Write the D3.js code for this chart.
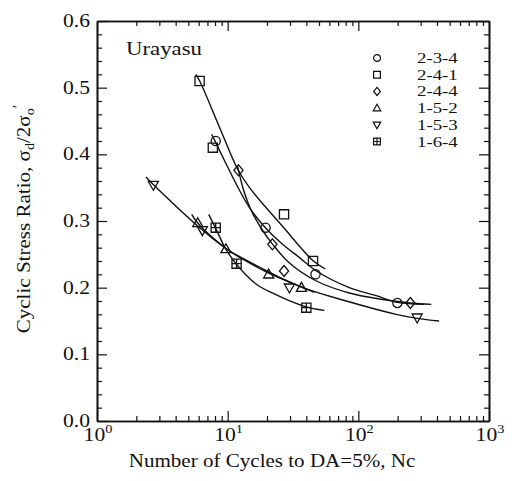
<!DOCTYPE html>
<html>
<head>
<meta charset="utf-8">
<script src="https://cdn.jsdelivr.net/npm/d3@7"></script>
<style>
  body { margin: 0; background: #fff; }
  svg { display: block; }
  text { font-family: "Liberation Serif", "DejaVu Serif", serif; fill: #111; }
</style>
</head>
<body>
<div id="chart"></div>
<script>
// legend / series names
var names = ["2-3-4", "2-4-1", "2-4-4", "1-5-2", "1-5-3", "1-6-4"];
var shapes = ["circle", "square", "diamond", "triUp", "triDown", "squarePlus"];

// measured points [Nc, stress ratio]
var pts234 = [[8.1, 0.42], [19.5, 0.29], [47, 0.22], [199, 0.177]];
var pts241 = [[6.1, 0.51], [7.7, 0.41], [27, 0.31], [45, 0.24]];
var pts244 = [[12.1, 0.376], [22, 0.265], [27, 0.225], [250, 0.177]];
var pts152 = [[5.9, 0.297], [9.7, 0.258], [20.6, 0.22], [36.7, 0.2]];
var pts153 = [[2.7, 0.354], [6.4, 0.286], [29.7, 0.2], [282, 0.155]];
var pts164 = [[8.1, 0.29], [11.7, 0.236], [40, 0.17]];

// hand drawn fit curves
var fit234 = [[7.55, 0.430], [9.49, 0.390], [12.4, 0.345], [14.7, 0.320], [19.2, 0.291], [26.3, 0.265],
              [35.5, 0.245], [47.8, 0.225], [85.3, 0.200], [137, 0.188], [199, 0.178], [319, 0.175]];
var fit241 = [[5.70, 0.520], [6.11, 0.510], [8.69, 0.440], [11.9, 0.378], [14.7, 0.350], [26.3, 0.292],
              [45.3, 0.240], [56.0, 0.228]];
var fit244 = [[11.9, 0.382], [13.3, 0.345], [15.2, 0.315], [18.2, 0.288], [22.1, 0.265], [29.7, 0.237],
              [47.8, 0.210], [85.3, 0.192], [145, 0.183], [249, 0.177], [361, 0.175]];
var fit152 = [[5.31, 0.310], [5.90, 0.297], [9.83, 0.258], [14.7, 0.237], [20.6, 0.222], [36.7, 0.201],
              [46.1, 0.193]];
var fit153 = [[2.37, 0.366], [2.72, 0.354], [6.44, 0.286], [9.83, 0.258], [17.5, 0.231], [35.5, 0.202],
              [80.9, 0.180], [195, 0.160], [282, 0.154], [415, 0.150]];
var fit164 = [[7.16, 0.310], [8.10, 0.289], [9.66, 0.258], [11.7, 0.235], [14.0, 0.218], [16.9, 0.204],
              [20.9, 0.194], [38.7, 0.172], [55.0, 0.166]];

var yTicks = [0, 0.1, 0.2, 0.3, 0.4, 0.5, 0.6];
var xDecades = [1, 10, 100, 1000];

var allPts = [pts234, pts241, pts244, pts152, pts153, pts164];
var allFits = [fit234, fit241, fit244, fit152, fit153, fit164];

var width = 515, height = 481;
var margin = {top: 21, right: 26, bottom: 60, left: 97};

var svg = d3.select("#chart").append("svg")
    .attr("width", width)
    .attr("height", height);

var x = d3.scaleLog().domain([1, 1000]).range([margin.left, width - margin.right]);
var y = d3.scaleLinear().domain([0, 0.6]).range([height - margin.bottom, margin.top]);

// minor ticks
var xMinor = [];
xDecades.slice(0, 3).forEach(function (d) {
  for (var k = 2; k <= 9; k++) xMinor.push(d * k);
});
var yMinor = d3.range(0, 0.6001, 0.02).filter(function (v) {
  return Math.abs(v * 10 - Math.round(v * 10)) > 1e-6;
});

function axisStyle(g) {
  g.selectAll("path").attr("stroke", "#111").attr("stroke-width", 1.6);
  g.selectAll("line").attr("stroke", "#111").attr("stroke-width", 1.2);
  g.selectAll("text").remove();
}

// bottom / top
svg.append("g").attr("transform", "translate(0," + y(0) + ")")
    .call(d3.axisBottom(x).tickValues(xDecades).tickSize(-10).tickSizeOuter(0)).call(axisStyle);
svg.append("g").attr("transform", "translate(0," + y(0) + ")")
    .call(d3.axisBottom(x).tickValues(xMinor).tickSize(-5).tickSizeOuter(0)).call(axisStyle);
svg.append("g").attr("transform", "translate(0," + y(0.6) + ")")
    .call(d3.axisTop(x).tickValues(xDecades).tickSize(-10).tickSizeOuter(0)).call(axisStyle);
svg.append("g").attr("transform", "translate(0," + y(0.6) + ")")
    .call(d3.axisTop(x).tickValues(xMinor).tickSize(-5).tickSizeOuter(0)).call(axisStyle);

// left / right
svg.append("g").attr("transform", "translate(" + x(1) + ",0)")
    .call(d3.axisLeft(y).tickValues(yTicks).tickSize(-10).tickSizeOuter(0)).call(axisStyle);
svg.append("g").attr("transform", "translate(" + x(1) + ",0)")
    .call(d3.axisLeft(y).tickValues(yMinor).tickSize(-5).tickSizeOuter(0)).call(axisStyle);
svg.append("g").attr("transform", "translate(" + x(1000) + ",0)")
    .call(d3.axisRight(y).tickValues(yTicks).tickSize(-10).tickSizeOuter(0)).call(axisStyle);
svg.append("g").attr("transform", "translate(" + x(1000) + ",0)")
    .call(d3.axisRight(y).tickValues(yMinor).tickSize(-5).tickSizeOuter(0)).call(axisStyle);

// text helper: stretched serif like the scanned figure
function label(px, py, str, size, sx, anchor, rot) {
  var t = svg.append("text")
      .attr("transform", "translate(" + px + "," + py + ")" + (rot ? " rotate(" + rot + ")" : "") + " scale(" + sx + ",1)")
      .attr("font-family", "Liberation Serif, DejaVu Serif, serif")
      .attr("font-size", size)
      .attr("text-anchor", anchor || "start");
  if (str) t.text(str);
  return t;
}

// y tick labels
yTicks.forEach(function (v) {
  label(x(1) - 7, y(v) + 6, d3.format(".1f")(v), 18, 1.2, "end");
});

// x tick labels, 10^n
xDecades.forEach(function (v, i) {
  var t = label(x(v) + 1, 441, null, 18, 1.2, "middle");
  t.append("tspan").text("10");
  t.append("tspan").attr("font-size", 12).attr("dy", -8).text(i);
});

// axis titles
label((x(1) + x(1000)) / 2 - 21, 467, "Number of Cycles to DA=5%,  Nc", 18, 1.17, "middle");

var yt = label(30, (y(0) + y(0.6)) / 2 - 2, null, 18, 1.17, "middle", -90);
yt.append("tspan").text("Cyclic Stress Ratio,  \u03c3");
yt.append("tspan").attr("font-size", 12).attr("dy", 4).text("d");
yt.append("tspan").attr("dy", -4).text("/2\u03c3");
yt.append("tspan").attr("font-size", 12).attr("dy", 4).text("o");
yt.append("tspan").attr("font-size", 14).attr("dy", -11).text("\u2032");

label(126, 55, "Urayasu", 19, 1.2, "start");

// marker paths
function marker(type, cx, cy, s) {
  var p = d3.path();
  if (type === "circle") {
    p.moveTo(cx + s, cy);
    p.arc(cx, cy, s, 0, 2 * Math.PI);
  } else if (type === "square" || type === "squarePlus") {
    p.rect(cx - s, cy - s, 2 * s, 2 * s);
    if (type === "squarePlus") {
      p.moveTo(cx - s, cy); p.lineTo(cx + s, cy);
      p.moveTo(cx, cy - s); p.lineTo(cx, cy + s);
    }
  } else if (type === "diamond") {
    p.moveTo(cx, cy - s * 1.2); p.lineTo(cx + s, cy); p.lineTo(cx, cy + s * 1.2); p.lineTo(cx - s, cy); p.closePath();
  } else if (type === "triUp") {
    p.moveTo(cx, cy - s * 1.15); p.lineTo(cx + s * 1.1, cy + s * 0.8); p.lineTo(cx - s * 1.1, cy + s * 0.8); p.closePath();
  } else if (type === "triDown") {
    p.moveTo(cx, cy + s * 1.15); p.lineTo(cx + s * 1.1, cy - s * 0.8); p.lineTo(cx - s * 1.1, cy - s * 0.8); p.closePath();
  }
  return p.toString();
}

var line = d3.line()
    .x(function (d) { return x(d[0]); })
    .y(function (d) { return y(d[1]); })
    .curve(d3.curveCatmullRom.alpha(0.5));

svg.append("g").selectAll("path")
    .data(allFits)
    .enter().append("path")
    .attr("d", line)
    .attr("fill", "none")
    .attr("stroke", "#111")
    .attr("stroke-width", 1.4);

allPts.forEach(function (pts, i) {
  svg.append("g").selectAll("path")
      .data(pts)
      .enter().append("path")
      .attr("d", function (d) { return marker(shapes[i], x(d[0]), y(d[1]), 4.6); })
      .attr("fill", "none")
      .attr("stroke", "#111")
      .attr("stroke-width", 1.3);
});

// legend
var lg = svg.append("g");
names.forEach(function (n, i) {
  var ly = 58 + i * 16.7;
  lg.append("path")
      .attr("d", marker(shapes[i], 377, ly, 3.4))
      .attr("fill", "none")
      .attr("stroke", "#111")
      .attr("stroke-width", 1.2);
  label(417, ly + 5, n, 14.5, 1.3, "start");
});
</script>
</body>
</html>
